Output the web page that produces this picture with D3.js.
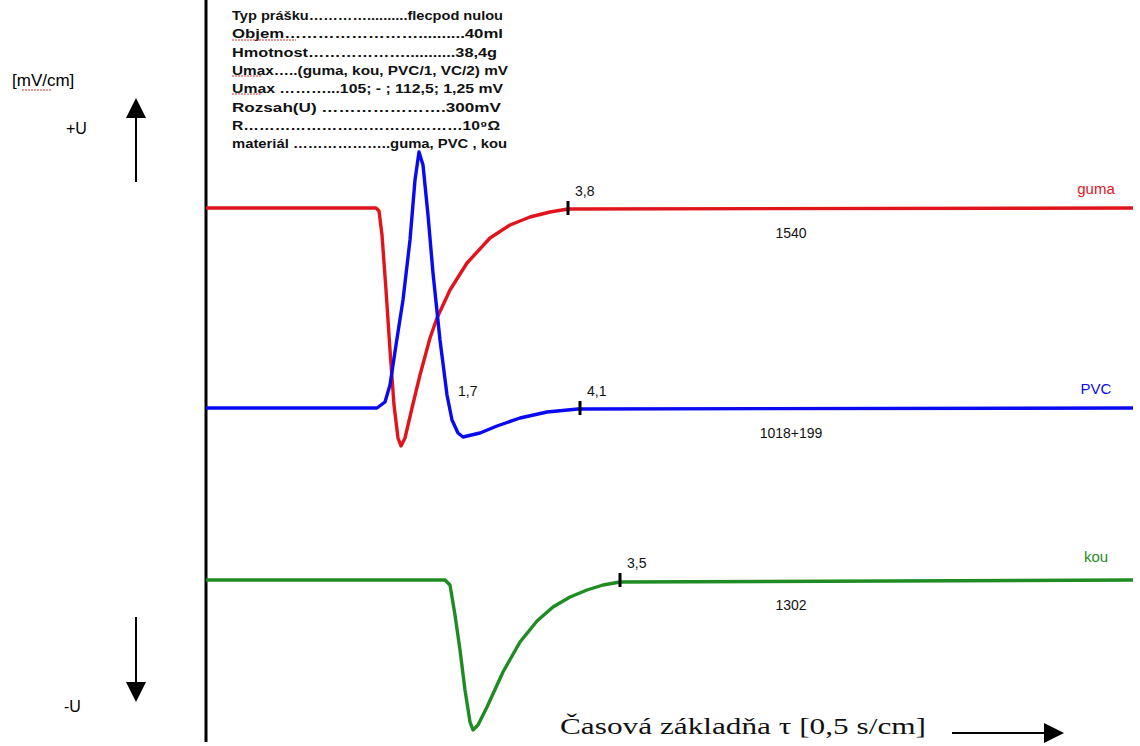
<!DOCTYPE html>
<html>
<head>
<meta charset="utf-8">
<script src="https://cdn.jsdelivr.net/npm/d3@7"></script>
<style>
    body { margin: 0; background: #fff; }
    #chart { width: 1140px; height: 746px; }
</style>
</head>
<body>
<div id="chart"></div>
<script>
// time in units of 0.5 s/cm, voltage in arbitrary display units
const seriesNames = ["guma", "PVC", "kou"];
const seriesColors = ["#e0151c", "#0a0af0", "#1e8c22"];

const gumaPoints = [
    [0, 16.2], [3.40, 16.2], [3.46, 15.9], [3.52, 13.5], [3.60, 8.0], [3.68, 2.0],
    [3.76, -3.5], [3.84, -6.8], [3.90, -7.6], [3.98, -6.8], [4.12, -3.8], [4.28, -0.5],
    [4.48, 3.2], [4.62, 5.2], [4.88, 8.0], [5.22, 10.7], [5.68, 13.2], [6.08, 14.5],
    [6.48, 15.3], [6.88, 15.8], [7.24, 16.1], [18.54, 16.2]
];
const pvcPoints = [
    [0, -3.8], [3.42, -3.8], [3.58, -3.2], [3.68, -1.5], [3.80, 2.5], [3.94, 7.0],
    [4.08, 13.0], [4.18, 19.0], [4.26, 21.8], [4.34, 20.5], [4.44, 15.5], [4.54, 9.7],
    [4.68, 3.0], [4.82, -2.5], [4.92, -5.0], [5.04, -6.3], [5.14, -6.7], [5.48, -6.3],
    [5.82, -5.6], [6.28, -4.8], [6.82, -4.2], [7.44, -3.9], [18.54, -3.8]
];
const kouPoints = [
    [0, -21], [4.78, -21], [4.88, -21.5], [4.98, -24.5], [5.08, -28], [5.18, -32],
    [5.28, -35.2], [5.34, -36], [5.44, -35.5], [5.62, -33.7], [5.94, -30.2], [6.28, -27.2],
    [6.62, -25.1], [6.94, -23.7], [7.28, -22.7], [7.62, -22], [7.94, -21.5], [8.28, -21.2],
    [18.54, -21]
];

// marked times (start of pulse + duration) and their labels
const tickTimes = [[7.24], [5.08, 7.48], [8.28]];
const tickLabels = [["3,8"], ["1,7", "4,1"], ["3,5"]];
const baselines = [16.2, -3.8, -21];
const countLabels = ["1540", "1018+199", "1302"];

const infoLines = [
    "Typ prášku\u2026\u2026\u2026\u2026..........flecpod nulou",
    "Objem\u2026\u2026\u2026\u2026\u2026\u2026\u2026\u2026..........40ml",
    "Hmotnost\u2026\u2026\u2026\u2026\u2026\u2026...........38,4g",
    "Umax\u2026..(guma, kou, PVC/1, VC/2) mV",
    "Umax \u2026\u2026\u2026...105; - ; 112,5; 1,25 mV",
    "Rozsah(U) \u2026\u2026\u2026\u2026\u2026\u2026\u2026.300mV",
    "R\u2026\u2026\u2026\u2026\u2026\u2026\u2026\u2026\u2026\u2026\u2026\u2026\u2026\u202610\u2079\u03a9",
    "materiál \u2026\u2026\u2026\u2026\u2026\u2026..guma, PVC , kou"
];
const infoEnds = [503, 503, 497, 508, 503, 501, 500, 507];

class PulseChart {
    constructor(parentElement) {
        this.parentElement = parentElement;
        this.series = [gumaPoints, pvcPoints, kouPoints];
        this.initVis();
    }

    initVis() {
        let vis = this;

        vis.width = 1140;
        vis.height = 746;

        vis.svg = d3.select("#" + vis.parentElement).append("svg")
            .attr("width", vis.width)
            .attr("height", vis.height);

        // 50 px per time unit, 10 px per voltage unit
        vis.x = d3.scaleLinear().domain([0, 18.6]).range([206, 1136]);
        vis.y = d3.scaleLinear().domain([37, -37]).range([0, 740]);

        vis.updateVis();
    }

    updateVis() {
        let vis = this;

        // arrow heads
        let defs = vis.svg.append("defs");
        defs.append("marker")
            .attr("id", "head")
            .attr("viewBox", "0 0 10 10")
            .attr("refX", 9).attr("refY", 5)
            .attr("markerWidth", 20).attr("markerHeight", 20)
            .attr("markerUnits", "userSpaceOnUse")
            .attr("orient", "auto")
            .append("path")
            .attr("d", "M0,0 L10,5 L0,10 Z")
            .attr("fill", "black");

        // vertical axis line
        vis.svg.append("line")
            .attr("x1", vis.x(0)).attr("x2", vis.x(0))
            .attr("y1", 0).attr("y2", 742)
            .attr("stroke", "black")
            .attr("stroke-width", 3);

        // curves
        vis.line = d3.line()
            .x(d => vis.x(d[0]))
            .y(d => vis.y(d[1]));

        vis.series.forEach((pts, i) => {
            vis.svg.append("path")
                .datum(pts)
                .attr("d", vis.line)
                .attr("fill", "none")
                .attr("stroke", seriesColors[i])
                .attr("stroke-width", 3.4)
                .attr("stroke-linejoin", "round");
        });

        // tick marks and their labels
        tickTimes.forEach((times, i) => {
            times.forEach((t, j) => {
                let onBase = j === times.length - 1;
                let ty = vis.y(baselines[i]);
                if (onBase) {
                    vis.svg.append("line")
                        .attr("x1", vis.x(t)).attr("x2", vis.x(t))
                        .attr("y1", ty - 7).attr("y2", ty + 7)
                        .attr("stroke", "black")
                        .attr("stroke-width", 3);
                }
                vis.svg.append("text")
                    .attr("x", vis.x(t) + (onBase ? 7 : -2))
                    .attr("y", ty - 12)
                    .attr("font-family", "Liberation Sans, Arial, sans-serif")
                    .attr("font-size", "14px")
                    .attr("fill", "#111")
                    .text(tickLabels[i][j]);
            });

            // count under baseline
            vis.svg.append("text")
                .attr("x", vis.x(11.7))
                .attr("y", vis.y(baselines[i]) + 30)
                .attr("text-anchor", "middle")
                .attr("font-family", "Liberation Sans, Arial, sans-serif")
                .attr("font-size", "14px")
                .attr("fill", "#111")
                .text(countLabels[i]);

            // series name
            vis.svg.append("text")
                .attr("x", vis.x(17.8))
                .attr("y", vis.y(baselines[i]) - (i === 2 ? 18 : 14))
                .attr("text-anchor", "middle")
                .attr("font-family", "Liberation Sans, Arial, sans-serif")
                .attr("font-size", "15px")
                .attr("fill", seriesColors[i])
                .text(seriesNames[i]);
        });

        // info block at the top
        infoLines.forEach((s, i) => {
            vis.svg.append("text")
                .attr("x", 232)
                .attr("y", 20 + i * 18.3)
                .attr("textLength", infoEnds[i] - 232)
                .attr("lengthAdjust", "spacingAndGlyphs")
                .attr("font-family", "Liberation Sans, Arial, sans-serif")
                .attr("font-size", "12px")
                .attr("font-weight", "bold")
                .attr("fill", "#111")
                .text(s);
        });
        // spell-check squiggles
        [[232, 38, 296], [232, 74, 262], [232, 92, 262]].forEach(d => {
            vis.svg.append("line")
                .attr("x1", d[0]).attr("x2", d[2])
                .attr("y1", d[1] + 2).attr("y2", d[1] + 2)
                .attr("stroke", "#e03030")
                .attr("stroke-width", 1.2)
                .attr("stroke-dasharray", "2,1");
        });

        // y unit and direction labels
        vis.svg.append("text")
            .attr("x", 12).attr("y", 86)
            .attr("font-family", "Liberation Sans, Arial, sans-serif")
            .attr("font-size", "17px")
            .text("[mV/cm]");
        vis.svg.append("line")
            .attr("x1", 22).attr("x2", 52)
            .attr("y1", 90).attr("y2", 90)
            .attr("stroke", "#e03030")
            .attr("stroke-width", 1.2)
            .attr("stroke-dasharray", "2,1");
        vis.svg.append("text")
            .attr("x", 66).attr("y", 134)
            .attr("font-family", "Liberation Sans, Arial, sans-serif")
            .attr("font-size", "16px")
            .text("+U");
        vis.svg.append("text")
            .attr("x", 64).attr("y", 712)
            .attr("font-family", "Liberation Sans, Arial, sans-serif")
            .attr("font-size", "16px")
            .text("-U");

        let arrows = [[136, 182, 136, 100], [136, 617, 136, 700], [952, 733, 1062, 733]];
        arrows.forEach(a => {
            vis.svg.append("line")
                .attr("x1", a[0]).attr("y1", a[1])
                .attr("x2", a[2]).attr("y2", a[3])
                .attr("stroke", "black")
                .attr("stroke-width", 2)
                .attr("marker-end", "url(#head)");
        });

        // x axis title
        vis.svg.append("text")
            .attr("x", 560).attr("y", 734)
            .attr("textLength", 366)
            .attr("lengthAdjust", "spacingAndGlyphs")
            .attr("font-family", "Liberation Serif, Times New Roman, serif")
            .attr("font-size", "23px")
            .attr("fill", "#111")
            .text("Časová základňa τ [0,5 s/cm]");
    }
}

new PulseChart("chart");
</script>
</body>
</html>
